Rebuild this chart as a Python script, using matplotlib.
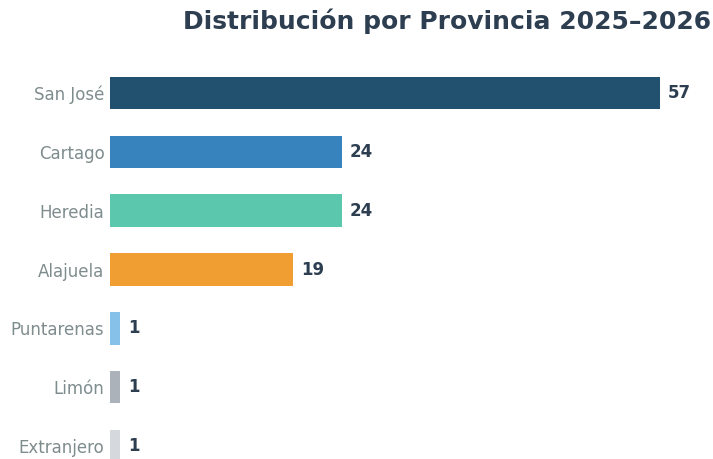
import matplotlib.pyplot as plt

plt.rcParams["font.family"] = ["DejaVu Sans"]

provincias = ["San José", "Cartago", "Heredia", "Alajuela", "Puntarenas", "Limón", "Extranjero"]
cantidades = [57, 24, 24, 19, 1, 1, 1]
colores = ["#22506f", "#3783bd", "#5bc8ae", "#f09e32", "#85c1e9", "#abb2b9", "#d5d8dc"]

fig = plt.figure(figsize=(7.13, 4.59), dpi=100)
ax = fig.add_axes([110 / 713, 0, 603 / 713, 399 / 459])

y = range(len(provincias))
ax.barh(y, cantidades, height=0.55, color=colores)

for i, v in enumerate(cantidades):
    ax.text(v + 0.85, i, str(v), va="center", ha="left",
            fontsize=12, fontweight="bold", color="#2c3e50")

ax.set_yticks(list(y))
ax.set_yticklabels(provincias, fontsize=12, color="#7f8c8d")
ax.tick_params(axis="y", length=0, pad=4)
ax.set_xticks([])
ax.set_xlim(0, 62.5)
ax.set_ylim(6.22, -0.56)
for s in ax.spines.values():
    s.set_visible(False)

fig.text(711 / 713, 1 - 21 / 459, "Distribución por Provincia 2025–2026",
         ha="right", va="center", fontsize=18, fontweight="bold", color="#2c3e50")

fig.savefig("out.png", dpi=100)
